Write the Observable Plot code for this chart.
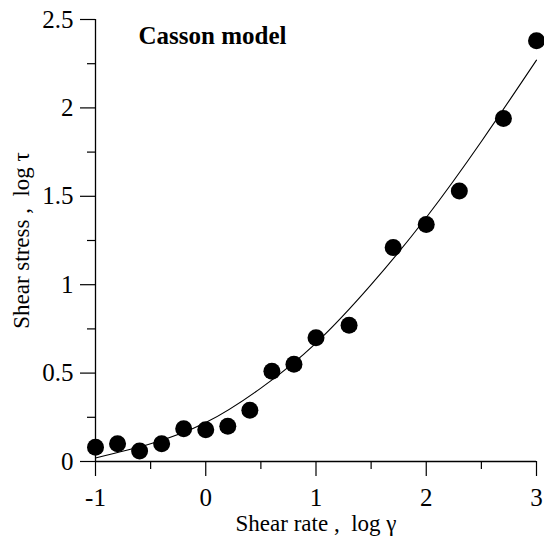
<!DOCTYPE html>
<html><head><meta charset="utf-8">
<script src="https://cdn.jsdelivr.net/npm/d3@7"></script>
<script src="https://cdn.jsdelivr.net/npm/@observablehq/plot@0.6"></script>
<style>body{margin:0;background:#fff}</style>
</head><body><div id="chart"></div>
<script>
const shearRate = [-1, -0.8, -0.6, -0.4, -0.2, 0, 0.2, 0.4, 0.6, 0.8, 1, 1.3, 1.7, 2, 2.3, 2.7, 3];
const shearStress = [0.08, 0.10, 0.06, 0.10, 0.185, 0.18, 0.20, 0.29, 0.51, 0.55, 0.70, 0.77, 1.21, 1.34, 1.53, 1.94, 2.38];
const fitRate = [-1, -0.5, 0, 0.5, 1, 1.5, 2, 2.5, 3];
const fitStress = [0.02, 0.10, 0.22, 0.415, 0.67, 1.0, 1.38, 1.81, 2.27];
const xTicks = [-1, 0, 1, 2, 3];
const xMinor = [-0.5, 0.5, 1.5, 2.5];
const yTicks = [0, 0.5, 1, 1.5, 2, 2.5];
const yMinor = [0.25, 0.75, 1.25, 1.75, 2.25];
const titleText = "Casson model";
const xLabel = "Shear rate ,\u00a0 log \u03b3";
const yLabel = "Shear stress ,\u00a0 log \u03c4";

const points = shearRate.map((x, i) => ({x, y: shearStress[i]}));
const fit = fitRate.map((x, i) => ({x, y: fitStress[i]}));

const chart = Plot.plot({
  width: 544, height: 543,
  marginLeft: 95, marginRight: 8, marginTop: 19, marginBottom: 82,
  style: {fontFamily: "'Liberation Serif', 'Times New Roman', serif", background: "#fff", color: "#000"},
  x: {domain: [-1, 3]},
  y: {domain: [0, 2.5]},
  marks: [
    Plot.axisX(xMinor, {tickSize: 8, text: null, label: null, strokeWidth: 1.2}),
    Plot.axisX(xTicks, {tickSize: 15, tickPadding: 12, fontSize: 25, label: null, tickFormat: d => String(d), strokeWidth: 1.2}),
    Plot.axisY(yMinor, {tickSize: 8, text: null, label: null, strokeWidth: 1.2}),
    Plot.axisY(yTicks, {tickSize: 15, tickPadding: 7, fontSize: 25, label: null, tickFormat: d => String(d), strokeWidth: 1.2}),
    Plot.ruleX([-1], {strokeWidth: 1.3}),
    Plot.ruleY([0], {strokeWidth: 1.3}),
    Plot.line(fit, {x: "x", y: "y", curve: "natural", strokeWidth: 1.1, stroke: "#000"}),
    Plot.dot(points, {x: "x", y: "y", r: 8.5, fill: "#000"}),
    Plot.text([titleText], {frameAnchor: "top-left", dx: 43, dy: 16, textAnchor: "start", lineAnchor: "middle", fontWeight: "bold", fontSize: 25}),
    Plot.text([xLabel], {frameAnchor: "bottom", dy: 62, textAnchor: "middle", lineAnchor: "middle", fontSize: 23}),
    Plot.text([yLabel], {frameAnchor: "left", dx: -74, rotate: -90, textAnchor: "middle", lineAnchor: "middle", fontSize: 23})
  ]
});
document.getElementById("chart").appendChild(chart);
</script>
</body></html>
